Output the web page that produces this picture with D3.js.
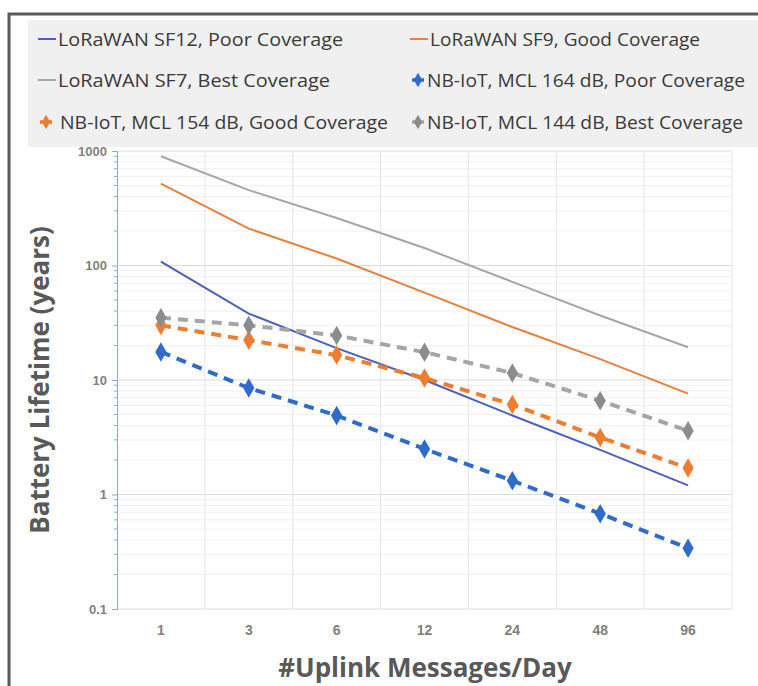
<!DOCTYPE html>
<html>
<head>
<meta charset="utf-8">
<script src="https://cdn.jsdelivr.net/npm/d3@7"></script>
<style>
  body { margin: 0; background: #fff; }
  svg { display: block; font-family: "Open Sans", "DejaVu Sans", sans-serif; }
</style>
</head>
<body>
<svg id="chart" width="758" height="686"></svg>
<script>
// ---------------- data ----------------
var categories = ["1", "3", "6", "12", "24", "48", "96"];

var sf12  = [108, 38, 19, 10, 4.9, 2.45, 1.2];
var sf9   = [520, 210, 115, 58, 29, 15.2, 7.6];
var sf7   = [900, 455, 260, 142, 72, 36.6, 19.3];
var nb164 = [17.6, 8.5, 4.9, 2.5, 1.32, 0.68, 0.34];
var nb154 = [30, 22.3, 16.5, 10.4, 6.1, 3.15, 1.7];
var nb144 = [35, 30, 24.5, 17.5, 11.5, 6.6, 3.6];

var yTicks = [0.1, 1, 10, 100, 1000];

var series = [
  { name: "LoRaWAN SF12, Poor Coverage",        values: sf12,  color: "#4d5fbe", dashed: false },
  { name: "LoRaWAN SF9, Good Coverage",         values: sf9,   color: "#e9803a", dashed: false },
  { name: "LoRaWAN SF7, Best Coverage",         values: sf7,   color: "#a6a6a6", dashed: false },
  { name: "NB-IoT, MCL 164 dB, Poor Coverage",  values: nb164, color: "#2f6bcb", dashed: true, marker: "#2f6bcb" },
  { name: "NB-IoT, MCL 154 dB, Good Coverage",  values: nb154, color: "#ed7d31", dashed: true, marker: "#ed7d31" },
  { name: "NB-IoT, MCL 144 dB, Best Coverage",  values: nb144, color: "#a5a5a5", dashed: true, marker: "#8c8c8c" }
];

// ---------------- layout ----------------
var svg = d3.select("#chart");
var plot = { left: 117, right: 732, top: 151, bottom: 609 };

// outer frame (top + left edges visible)
svg.append("path")
  .attr("d", "M9,686 L9,14 L758,14")
  .attr("fill", "none")
  .attr("stroke", "#5a5a5a")
  .attr("stroke-width", 3);

// legend background
svg.append("rect")
  .attr("x", 28).attr("y", 20)
  .attr("width", 730).attr("height", 127)
  .attr("fill", "#f0f0f0");

// ---------------- scales ----------------
var xScale = d3.scaleBand()
  .domain(categories)
  .range([plot.left, plot.right]);

var yScale = d3.scaleLog()
  .domain([0.1, 1000])
  .range([plot.bottom, plot.top]);

// minor values 2..9 for each decade
var minorVals = [];
[0.1, 1, 10, 100].forEach(function(d) {
  for (var k = 2; k <= 9; k++) minorVals.push(d * k);
});

// ---------------- gridlines ----------------
var grid = svg.append("g");

grid.selectAll(".minor")
  .data(minorVals)
  .enter().append("line")
    .attr("x1", plot.left).attr("x2", plot.right)
    .attr("y1", d => yScale(d)).attr("y2", d => yScale(d))
    .attr("stroke", "#f0f0f0").attr("stroke-width", 1);

grid.selectAll(".major")
  .data(yTicks)
  .enter().append("line")
    .attr("x1", plot.left).attr("x2", plot.right)
    .attr("y1", d => yScale(d)).attr("y2", d => yScale(d))
    .attr("stroke", "#dcdcdc").attr("stroke-width", 1);

// vertical gridlines between categories
var bounds = categories.map(c => xScale(c) + xScale.bandwidth());
grid.selectAll(".vgrid")
  .data(bounds)
  .enter().append("line")
    .attr("x1", d => d).attr("x2", d => d)
    .attr("y1", plot.top).attr("y2", plot.bottom)
    .attr("stroke", "#e6e6e6").attr("stroke-width", 1);

// ---------------- y axis ----------------
var yAxis = d3.axisLeft(yScale)
  .tickValues(yTicks)
  .tickFormat(d => d3.format("~g")(d))
  .tickSize(5)
  .tickPadding(5);

var yG = svg.append("g")
  .attr("transform", "translate(" + plot.left + ",0)")
  .call(yAxis);

yG.select(".domain").attr("stroke", "#8ea6d8");
yG.selectAll(".tick line").attr("stroke", "#8ea6d8");
yG.selectAll("text")
  .attr("fill", "#808080")
  .style("font-size", "13px")
  .style("font-weight", "600");

// minor tick marks
yG.selectAll(".minorTick")
  .data(minorVals)
  .enter().append("line")
    .attr("x1", -3).attr("x2", 0)
    .attr("y1", d => yScale(d)).attr("y2", d => yScale(d))
    .attr("stroke", "#8ea6d8");

// ---------------- x axis labels ----------------
var xAxis = d3.axisBottom(xScale).tickSize(0).tickPadding(16);
var xG = svg.append("g")
  .attr("transform", "translate(0," + plot.bottom + ")")
  .call(xAxis);
xG.select(".domain").remove();
xG.selectAll("text")
  .attr("fill", "#808080")
  .style("font-size", "14px")
  .style("font-weight", "600");

// ---------------- axis titles ----------------
svg.append("text")
  .text("#Uplink Messages/Day")
  .attr("x", 425).attr("y", 677)
  .attr("text-anchor", "middle")
  .attr("fill", "#595959")
  .style("font-size", "26px")
  .style("font-weight", "700");

svg.append("text")
  .text("Battery Lifetime (years)")
  .attr("transform", "translate(49,380) rotate(-90)")
  .attr("text-anchor", "middle")
  .attr("fill", "#595959")
  .style("font-size", "26px")
  .style("font-weight", "700");

// ---------------- lines + markers ----------------
var line = d3.line()
  .x((d, i) => xScale(categories[i]) + xScale.bandwidth() / 2)
  .y(d => yScale(d));

var diamond = d3.symbol().type(d3.symbolDiamond).size(110);

series.forEach(function(s) {
  svg.append("path")
    .datum(s.values)
    .attr("d", line)
    .attr("fill", "none")
    .attr("stroke", s.color)
    .attr("stroke-width", s.dashed ? 4 : 2)
    .attr("stroke-dasharray", s.dashed ? "10,7" : null);

  if (s.marker) {
    svg.append("g").selectAll("path")
      .data(s.values)
      .enter().append("path")
        .attr("d", diamond)
        .attr("transform", (d, i) => "translate(" + (xScale(categories[i]) + xScale.bandwidth() / 2) + "," + yScale(d) + ")")
        .attr("fill", s.marker);
  }
});

// ---------------- legend ----------------
var legendPos = [
  { x: 38,  y: 39,  tx: 58,  w: 285 },
  { x: 410, y: 39,  tx: 430, w: 270 },
  { x: 38,  y: 80,  tx: 58,  w: 272 },
  { x: 410, y: 80,  tx: 427, w: 318 },
  { x: 38,  y: 122, tx: 60,  w: 328 },
  { x: 410, y: 122, tx: 427, w: 316 }
];

var legend = svg.append("g");
series.forEach(function(s, i) {
  var p = legendPos[i];
  var g = legend.append("g");
  if (s.marker) {
    g.append("line")
      .attr("x1", p.x + 2).attr("x2", p.x + 14)
      .attr("y1", p.y).attr("y2", p.y)
      .attr("stroke", s.color).attr("stroke-width", 3.5);
    g.append("path")
      .attr("d", d3.symbol().type(d3.symbolDiamond).size(60))
      .attr("transform", "translate(" + (p.x + 8) + "," + p.y + ")")
      .attr("fill", s.marker);
  } else {
    g.append("line")
      .attr("x1", p.x).attr("x2", p.x + 18)
      .attr("y1", p.y).attr("y2", p.y)
      .attr("stroke", s.color).attr("stroke-width", 2);
  }
  g.append("text")
    .text(s.name)
    .attr("x", p.tx).attr("y", p.y)
    .attr("dy", "0.35em")
    .attr("textLength", p.w)
    .attr("lengthAdjust", "spacingAndGlyphs")
    .attr("fill", "#3a3a3a")
    .style("font-size", "19px");
});
</script>
</body>
</html>
